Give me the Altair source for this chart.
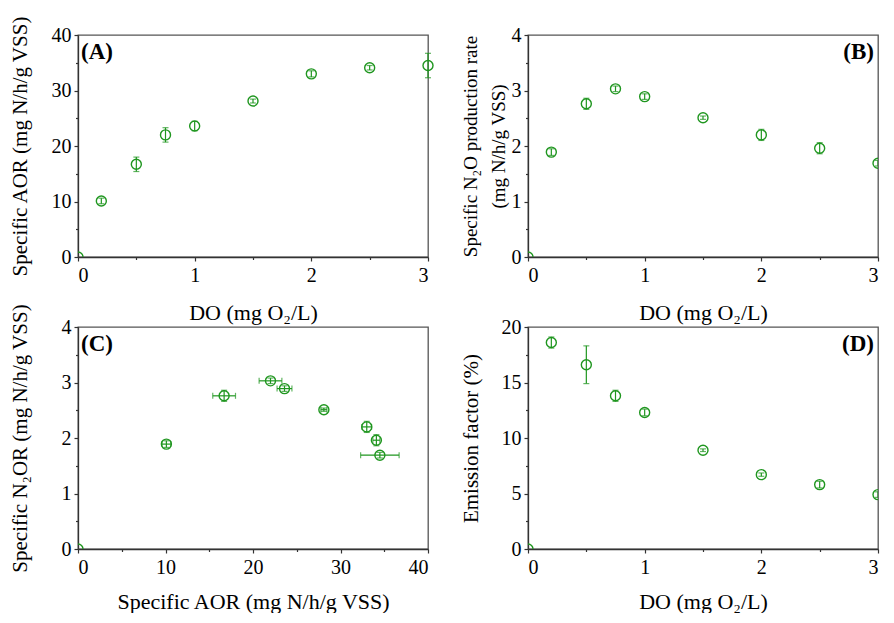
import altair as alt
import pandas as pd

# ---- data ----
DO = [0, 0.2, 0.5, 0.75, 1.0, 1.5, 2.0, 2.5, 3.0]
AOR = [0, 10.1, 16.7, 22.0, 23.6, 28.1, 33.0, 34.1, 34.5]
AOR_ERR = [0, 0.5, 1.3, 1.3, 0.85, 0.35, 0.55, 0.4, 2.2]
N2O = [0, 1.89, 2.76, 3.03, 2.89, 2.51, 2.20, 1.96, 1.69]
N2O_ERR = [0, 0.06, 0.10, 0.05, 0.05, 0.03, 0.10, 0.10, 0.05]
EF = [0, 18.6, 16.6, 13.8, 12.3, 8.9, 6.7, 5.8, 4.9]
EF_ERR = [0, 0.5, 1.7, 0.5, 0.3, 0.12, 0.15, 0.3, 0.25]

DO_TICKS = [0, 1, 2, 3]
DO_MINOR = [0.5, 1.5, 2.5]
AOR_TICKS = [0, 10, 20, 30, 40]
AOR_MINOR = [5, 15, 25, 35]
RATE_TICKS = [0, 1, 2, 3, 4]
RATE_MINOR = [0.5, 1.5, 2.5, 3.5]
EF_TICKS = [0, 5, 10, 15, 20]
EF_MINOR = [2.5, 7.5, 12.5, 17.5]

df = pd.DataFrame({
    "DO": DO, "AOR": AOR, "AOR_err": AOR_ERR,
    "N2O": N2O, "N2O_err": N2O_ERR, "EF": EF, "EF_err": EF_ERR,
})

GREEN = "#1f961f"
FONT = "Liberation Serif"
W, H = 350, 222


def panel(x, y, xerr, yerr, xdom, xticks, xminor, ydom, yticks, yminor,
          xtitle, ytitle, label, label_right, xtitle_y, ytitle_size=21,
          ytitle_x=-58, clip=False):
    xs = alt.Scale(domain=xdom, nice=False, zero=False)
    ys = alt.Scale(domain=ydom, nice=False, zero=False)
    xaxis = alt.Axis(values=xticks, title=xtitle, titleY=xtitle_y,
                     titleBaseline="alphabetic", orient="bottom",
                     tickSize=4, labelPadding=4, format="d")
    yaxis = alt.Axis(values=yticks, title=ytitle, titleX=ytitle_x,
                     titleY=H / 2, titleBaseline="middle", orient="left",
                     tickSize=4, labelPadding=3, titleFontSize=ytitle_size,
                     titleLineHeight=28, format="d")
    base = alt.Chart(df)
    XN = lambda f: alt.X(f, type="quantitative", scale=xs, axis=None)
    YN = lambda f: alt.Y(f, type="quantitative", scale=ys, axis=None)

    pts = base.transform_filter(f"datum.{x} > 0").mark_point(
        shape="circle", filled=False, size=100, strokeWidth=1.4,
        color=GREEN, opacity=1, clip=clip
    ).encode(x=alt.X(x, type="quantitative", scale=xs, axis=xaxis),
             y=alt.Y(y, type="quantitative", scale=ys, axis=yaxis))

    zero = base.transform_filter(f"datum.{x} == 0").mark_point(
        shape="circle", filled=False, size=100, strokeWidth=1.4,
        color=GREEN, opacity=1, clip=True
    ).encode(x=XN(x), y=YN(y))

    minor = base.mark_point(opacity=0).encode(
        x=alt.X(x, type="quantitative", scale=xs,
                axis=alt.Axis(values=xminor, labels=False, title=None,
                              domain=False, tickSize=2.5, orient="bottom")),
        y=alt.Y(y, type="quantitative", scale=ys,
                axis=alt.Axis(values=yminor, labels=False, title=None,
                              domain=False, tickSize=2.5, orient="left")),
    )

    layers = [pts, zero, minor]
    e = base.transform_filter(f"datum.{x} > 0").transform_calculate(
        ylo=f"datum.{y} - datum.{yerr}", yhi=f"datum.{y} + datum.{yerr}"
    )
    layers.append(e.mark_rule(color=GREEN, strokeWidth=1.2, clip=clip).encode(
        x=XN(x), y=YN("ylo"), y2="yhi"))
    for f in ["ylo", "yhi"]:
        layers.append(e.mark_tick(color=GREEN, orient="horizontal", size=6,
                                  thickness=1.2, clip=clip).encode(
            x=XN(x), y=YN(f)))
    if xerr:
        h = base.transform_filter(f"datum.{x} > 0").transform_calculate(
            xlo=f"datum.{x} - datum.{xerr}", xhi=f"datum.{x} + datum.{xerr}"
        )
        layers.append(h.mark_rule(color=GREEN, strokeWidth=1.2).encode(
            x=XN("xlo"), x2="xhi", y=YN(y)))
        for f in ["xlo", "xhi"]:
            layers.append(h.mark_tick(color=GREEN, orient="vertical", size=6,
                                      thickness=1.2).encode(x=XN(f), y=YN(y)))

    txt = alt.Chart(alt.Data(values=[{"t": label}])).mark_text(
        font=FONT, fontSize=23, fontWeight="bold", color="black",
        align="right" if label_right else "left", baseline="alphabetic"
    ).encode(x=alt.value(W - 4 if label_right else 3), y=alt.value(24),
             text="t:N")
    layers.append(txt)

    return alt.layer(*layers).resolve_axis(
        x="independent", y="independent").properties(width=W, height=H)


A = panel("DO", "AOR", None, "AOR_err", [0, 3], DO_TICKS, DO_MINOR,
          [0, 40], AOR_TICKS, AOR_MINOR, "DO (mg O₂/L)",
          "Specific AOR (mg N/h/g VSS)", "(A)", False, 62)
B = panel("DO", "N2O", None, "N2O_err", [0, 3], DO_TICKS, DO_MINOR,
          [0, 4], RATE_TICKS, RATE_MINOR, "DO (mg O₂/L)",
          ["Specific N₂O production rate", "(mg N/h/g VSS)"], "(B)", True,
          62, ytitle_size=19, clip=True)
C = panel("AOR", "N2O", "AOR_err", "N2O_err", [0, 40], AOR_TICKS, AOR_MINOR,
          [0, 4], RATE_TICKS, RATE_MINOR, "Specific AOR (mg N/h/g VSS)",
          "Specific N₂OR (mg N/h/g VSS)", "(C)", False, 59)
D = panel("DO", "EF", None, "EF_err", [0, 3], DO_TICKS, DO_MINOR,
          [0, 20], EF_TICKS, EF_MINOR, "DO (mg O₂/L)",
          "Emission factor (%)", "(D)", True, 59, ytitle_x=-57, clip=True)

chart = alt.concat(
    A, B, C, D, columns=2, bounds="flush",
    spacing=alt.RowColnumber(row=70, column=100)
).properties(
    padding={"left": 0, "top": 6, "right": 0, "bottom": 0}
).configure_view(
    stroke="#555555", strokeWidth=1.3
).configure_axis(
    labelFont=FONT, labelFontSize=20, labelColor="black",
    titleFont=FONT, titleFontSize=22, titleFontWeight="normal",
    titleColor="black", domainColor="#333333", domainWidth=1.3,
    tickColor="#333333", tickWidth=1.2, grid=False,
)

chart.save("out.html", embed_options={"renderer": "svg", "actions": False})
